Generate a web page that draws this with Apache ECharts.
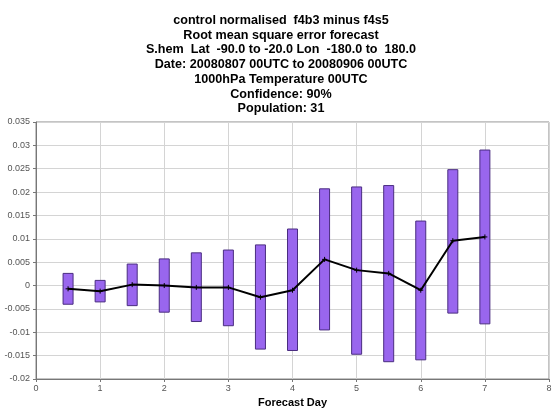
<!DOCTYPE html>
<html><head><meta charset="utf-8">
<script src="https://cdn.jsdelivr.net/npm/echarts@6/dist/echarts.min.js"></script>
<style>html,body{margin:0;padding:0;background:#fff}#c{width:553px;height:408px}</style>
</head><body><div id="c"></div>
<script>
const titleLines = [
  "control normalised  f4b3 minus f4s5",
  "Root mean square error forecast",
  "S.hem  Lat  -90.0 to -20.0 Lon  -180.0 to  180.0",
  "Date: 20080807 00UTC to 20080906 00UTC",
  "1000hPa Temperature 00UTC",
  "Confidence: 90%",
  "Population: 31"
];
const days = [0.5, 1, 1.5, 2, 2.5, 3, 3.5, 4, 4.5, 5, 5.5, 6, 6.5, 7];
const lower = [-0.0040, -0.0035, -0.0043, -0.0057, -0.0077, -0.0086, -0.0136, -0.0139, -0.0095, -0.0147, -0.0163, -0.0159, -0.0059, -0.0082];
const upper = [0.0026, 0.0011, 0.0046, 0.0057, 0.0070, 0.0076, 0.0087, 0.0121, 0.0207, 0.0211, 0.0214, 0.0138, 0.0248, 0.0290];
const mean = [-0.0007, -0.0012, 0.0002, 0.0000, -0.0004, -0.0004, -0.0025, -0.0010, 0.0056, 0.0033, 0.0026, -0.0010, 0.0096, 0.0104];

const chart = echarts.init(document.getElementById('c'));
const font = '"Liberation Sans", Arial, sans-serif';
chart.setOption({
  animation: false,
  textStyle: { fontFamily: font },
  title: {
    text: titleLines.join('\n'),
    left: 281, top: 13, textAlign: 'center', padding: 0,
    textStyle: { fontSize: 12.6, fontWeight: 'bold', color: '#000', lineHeight: 14.75, fontFamily: font }
  },
  grid: { left: 36, right: 4, top: 122, bottom: 29, show: true, borderColor: '#888', borderWidth: 1, containLabel: false, outerBoundsMode: 'none' },
  xAxis: {
    type: 'value', min: 0, max: 8, interval: 1,
    name: 'Forecast Day', nameLocation: 'middle', nameGap: 14,
    nameTextStyle: { fontSize: 11, fontWeight: 'bold', color: '#000' },
    axisLine: { onZero: false, lineStyle: { color: '#777' } },
    axisTick: { show: true, length: 3, lineStyle: { color: '#777' } },
    axisLabel: { fontSize: 9, color: '#555', margin: 5 },
    splitLine: { show: true, lineStyle: { color: '#d4d4d4' } }
  },
  yAxis: {
    type: 'value', min: -0.02, max: 0.035, interval: 0.005,
    axisLine: { show: true, lineStyle: { color: '#777' } },
    axisTick: { show: true, length: 3, lineStyle: { color: '#777' } },
    axisLabel: { fontSize: 9, color: '#555', margin: 6, padding: [3, 0, 0, 0], formatter: v => String(+v.toFixed(3)) },
    splitLine: { show: true, lineStyle: { color: '#d4d4d4' } }
  },
  series: [
    {
      type: 'custom',
      data: days.map((d, i) => [d, lower[i], upper[i]]),
      renderItem: function (params, api) {
        const x = api.value(0);
        const lo = api.coord([x, api.value(1)]);
        const hi = api.coord([x, api.value(2)]);
        const w = 10;
        return {
          type: 'rect',
          shape: { x: lo[0] - w / 2, y: hi[1], width: w, height: lo[1] - hi[1] },
          style: { fill: '#9966ee', stroke: '#4a2d80', lineWidth: 1 }
        };
      },
      encode: { x: 0, y: [1, 2] },
      z: 2
    },
    {
      type: 'line',
      data: days.map((d, i) => [d, mean[i]]),
      lineStyle: { color: '#000', width: 2 },
      symbol: 'path://M0,5L10,5M5,0L5,10',
      symbolSize: 5,
      itemStyle: { color: '#000', borderColor: '#000', borderWidth: 1 },
      z: 3
    }
  ]
});
</script>
</body></html>
